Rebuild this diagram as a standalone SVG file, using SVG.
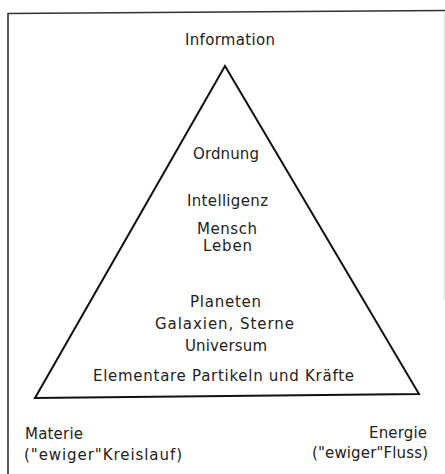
<svg xmlns="http://www.w3.org/2000/svg" width="445" height="474" viewBox="0 0 445 474">
<style>
text{font-family:"DejaVu Sans","Liberation Sans",sans-serif;font-size:15px;fill:#222;}
.c{text-anchor:middle;}
.e{text-anchor:end;}
.frame{fill:none;stroke:#333;stroke-width:1.6;}
.tri{fill:none;stroke:#111;stroke-width:2;stroke-linejoin:miter;}
</style>
<rect width="445" height="474" fill="#fff"/>
<g id="frame">
<path class="frame" d="M8,474 L8,13.5 L445,10.5"/>
<path d="M444,12 L444,300" stroke="#ddd" stroke-width="1" fill="none"/>
</g>
<g id="connectors">
<path id="triangle" class="tri" d="M225,66 L419,394 L35,398 Z"/>
</g>
<g id="top"><text x="230" y="45" class="c" textLength="90" lengthAdjust="spacing">Information</text></g>
<g id="ordnung"><text x="226" y="159" class="c" textLength="66" lengthAdjust="spacing">Ordnung</text></g>
<g id="intelligenz"><text x="227.5" y="206" class="c" textLength="81" lengthAdjust="spacing">Intelligenz</text></g>
<g id="mensch"><text x="227" y="234" class="c" textLength="60" lengthAdjust="spacing">Mensch</text></g>
<g id="leben"><text x="227.5" y="251" class="c" textLength="49" lengthAdjust="spacing">Leben</text></g>
<g id="planeten"><text x="225.5" y="307" class="c" textLength="71" lengthAdjust="spacing">Planeten</text></g>
<g id="galaxien"><text x="224.5" y="329" class="c" textLength="139" lengthAdjust="spacing">Galaxien,  Sterne</text></g>
<g id="universum"><text x="226" y="351" class="c" textLength="82" lengthAdjust="spacing">Universum</text></g>
<g id="elementare"><text x="223.5" y="381" class="c" textLength="261" lengthAdjust="spacing">Elementare Partikeln und Kräfte</text></g>
<g id="materie">
<text x="25" y="439" textLength="58" lengthAdjust="spacing">Materie</text>
<text x="24" y="460" textLength="158" lengthAdjust="spacing">("ewiger"Kreislauf)</text>
</g>
<g id="energie">
<text x="427" y="438" class="e" textLength="58" lengthAdjust="spacing">Energie</text>
<text x="428" y="458" class="e" textLength="116" lengthAdjust="spacing">("ewiger"Fluss)</text>
</g>
</svg>
